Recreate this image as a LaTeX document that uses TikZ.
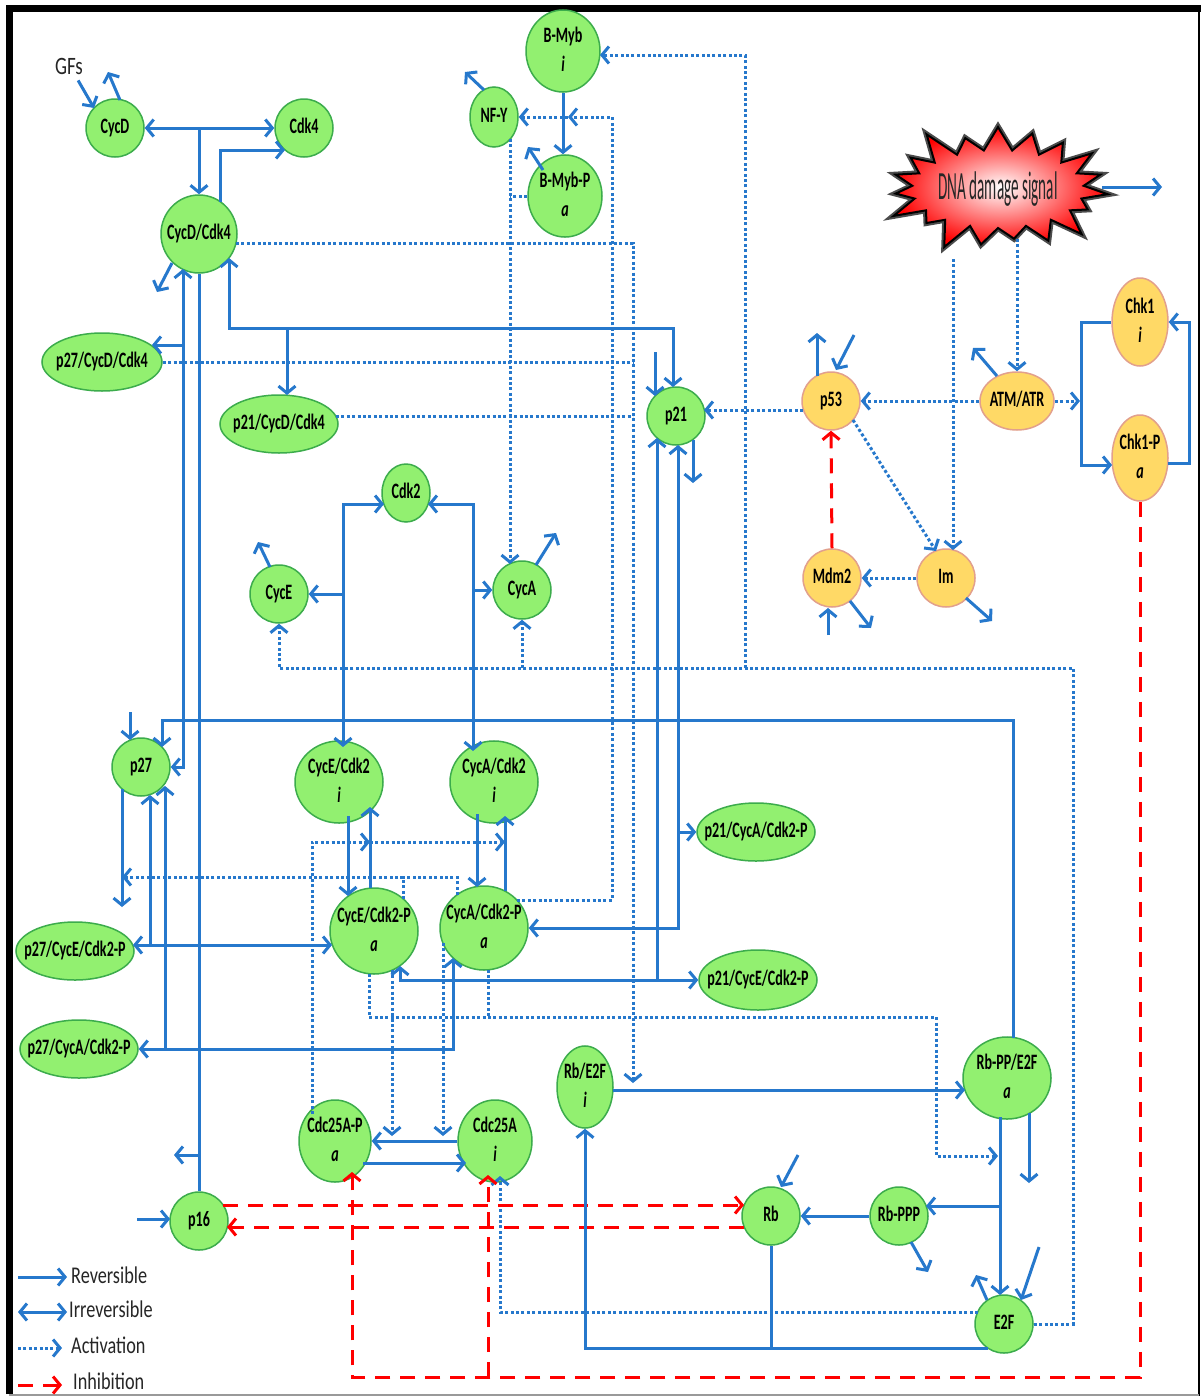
\documentclass[tikz,border=0pt]{standalone}
\usepackage{fontspec}
\usetikzlibrary{arrows.meta,shapes.geometric,shapes.symbols,calc}
\newfontfamily\nodefont[FakeStretch=0.64]{Carlito}
\newfontfamily\legfont[FakeStretch=0.76]{Carlito}
\newfontfamily\dnafont[FakeStretch=0.38]{Carlito}
\definecolor{lnBlue}{RGB}{38,120,204}
\definecolor{spFill}{RGB}{146,240,112}
\definecolor{spLine}{RGB}{60,172,76}
\definecolor{orFill}{RGB}{255,217,102}
\definecolor{orLine}{RGB}{226,160,140}
\definecolor{inRed}{RGB}{255,0,0}
\newcommand{\nlab}[1]{\makebox[0pt]{\begin{tabular}{@{}c@{}}#1\end{tabular}}}
\begin{document}
\begin{tikzpicture}[x=1pt,y=-1pt,
  >={Straight Barb[length=7pt,width=17pt]},
  sp/.style={ellipse, draw=spLine, fill=spFill, line width=1.5pt, inner sep=0pt,
    font=\nodefont\bfseries\fontsize{22}{29}\selectfont},
  op/.style={sp, draw=orLine, fill=orFill},
  sz/.style 2 args={minimum width=#1, minimum height=#2},
  rx/.style={draw=lnBlue, line width=3pt},
  act/.style={draw=lnBlue, line width=3pt, dash pattern=on 3pt off 2.4pt},
  inh/.style={draw=inRed, line width=3pt, dash pattern=on 15pt off 10pt},
  legtxt/.style={inner sep=0pt, font=\legfont\fontsize{24}{27}\selectfont, text=black!85}]
\useasboundingbox (0,0) rectangle (1204,1400);
\fill[white] (0,0) rectangle (1204,1400);

% frame
\draw[line width=7pt] (9.5,1394) -- (9.5,8.5) -- (1201,8.5);
\draw[line width=2pt] (1199,8.5) -- (1199,1396);
\draw[line width=1.5pt, black!40] (9,1395) -- (1199,1395);

% ---------- species ----------
\node[sp,sz={58pt}{58pt}] (CycD) at (115,128) {\nlab{CycD}};
\node[sp,sz={58pt}{58pt}] (Cdk4) at (304,128) {\nlab{Cdk4}};
\node[sp,sz={76pt}{78pt}] (CycDCdk4) at (199,234) {\nlab{CycD/Cdk4}};
\node[sp,sz={74pt}{66pt}] (BMyb) at (563,51) {\nlab{B-Myb\\\textit{i}}};
\node[sp,sz={48pt}{60pt}] (NFY) at (494,117) {\nlab{NF-Y}};
\node[sp,sz={74pt}{66pt}] (BMybP) at (565,196) {\nlab{B-Myb-P\\\textit{a}}};
\node[sp,sz={120pt}{58pt}] (p27D) at (102,362) {\nlab{p27/CycD/Cdk4}};
\node[sp,sz={118pt}{58pt}] (p21D) at (279,424) {\nlab{p21/CycD/Cdk4}};
\node[sp,sz={58pt}{58pt}] (p21) at (676,416) {\nlab{p21}};
\node[sp,sz={48pt}{58pt}] (Cdk2) at (406,493) {\nlab{Cdk2}};
\node[sp,sz={58pt}{58pt}] (CycE) at (279,594) {\nlab{CycE}};
\node[sp,sz={58pt}{58pt}] (CycA) at (522,590) {\nlab{CycA}};
\node[sp,sz={58pt}{58pt}] (p27) at (141,767) {\nlab{p27}};
\node[sp,sz={88pt}{70pt}] (CycEi) at (339,782) {\nlab{CycE/Cdk2\\\textit{i}}};
\node[sp,sz={88pt}{70pt}] (CycAi) at (494,782) {\nlab{CycA/Cdk2\\\textit{i}}};
\node[sp,sz={88pt}{86pt}] (CycEa) at (374,931) {\nlab{CycE/Cdk2-P\\\textit{a}}};
\node[sp,sz={88pt}{84pt}] (CycAa) at (484,928) {\nlab{CycA/Cdk2-P\\\textit{a}}};
\node[sp,sz={118pt}{58pt}] (p21A) at (756,832) {\nlab{p21/CycA/Cdk2-P}};
\node[sp,sz={118pt}{60pt}] (p21E) at (758,980) {\nlab{p21/CycE/Cdk2-P}};
\node[sp,sz={118pt}{58pt}] (p27E) at (75,951) {\nlab{p27/CycE/Cdk2-P}};
\node[sp,sz={118pt}{58pt}] (p27A) at (79,1049) {\nlab{p27/CycA/Cdk2-P}};
\node[sp,sz={56pt}{72pt}] (RbE2F) at (585,1087) {\nlab{Rb/E2F\\\textit{i}}};
\node[sp,sz={88pt}{80pt}] (RbPP) at (1007,1078) {\nlab{Rb-PP/E2F\\\textit{a}}};
\node[sp,sz={72pt}{70pt}] (Cdc25AP) at (335,1141) {\nlab{Cdc25A-P\\\textit{a}}};
\node[sp,sz={74pt}{70pt}] (Cdc25A) at (495,1141) {\nlab{Cdc25A\\\textit{i}}};
\node[sp,sz={58pt}{58pt}] (p16) at (199,1221) {\nlab{p16}};
\node[sp,sz={58pt}{58pt}] (Rb) at (771,1216) {\nlab{Rb}};
\node[sp,sz={58pt}{58pt}] (RbPPP) at (899,1216) {\nlab{Rb-PPP}};
\node[sp,sz={58pt}{58pt}] (E2F) at (1004,1324) {\nlab{E2F}};

\node[op,sz={58pt}{58pt}] (p53) at (831,401) {\nlab{p53}};
\node[op,sz={74pt}{58pt}] (ATM) at (1017,401) {\nlab{ATM/ATR}};
\node[op,sz={58pt}{58pt}] (Mdm2) at (832,578) {\nlab{Mdm2}};
\node[op,sz={58pt}{58pt}] (Im) at (946,578) {\nlab{Im}};
\node[op,sz={56pt}{88pt}] (Chk1) at (1140,322) {\nlab{Chk1\\\textit{i}}};
\node[op,sz={56pt}{86pt}] (Chk1P) at (1140,458) {\nlab{Chk1-P\\\textit{a}}};

% DNA damage starburst, with a soft dark rim behind it
\node[starburst, starburst points=19, starburst point height=32pt,
  minimum width=236pt, minimum height=142pt, inner sep=0pt,
  draw=black!70, line width=6pt, fill=black!70] (dnarim) at (998,189) {};
\node[starburst, starburst points=19, starburst point height=32pt,
  minimum width=236pt, minimum height=142pt, inner sep=0pt,
  draw=black, line width=2pt, shade, shading=radial,
  inner color=white, outer color=red,
  font=\dnafont\fontsize{40}{42}\selectfont, text=black!85] (dna) at (998,189) {DNA damage signal};

\node[legtxt, font=\legfont\fontsize{25}{27}\selectfont] (GFs) at (69,66) {GFs};

% ---------- CycD / Cdk4 module ----------
\draw[rx,->] ($(GFs.south east)+(-5,6)$) -- ($(CycD)+(-21,-20)$);
\draw[rx,->] ($(CycD)+(5,-28)$) -- ($(CycD)+(-7,-56)$);
\draw[rx,<->] (CycD.east) -- (Cdk4.west);
\draw[rx,->] (CycDCdk4.north |- CycD.east) -- (CycDCdk4.north);
\draw[rx,->] ($(CycDCdk4)+(21,-32)$) |- ($(Cdk4)+(-19,22)$);
\draw[rx,->] ($(CycDCdk4)+(-27,29)$) -- ($(CycDCdk4)+(-42,58)$);
\draw[rx,<->] ($(CycDCdk4)+(-16,35)$) |- (p27.east);
\draw[rx,->] ($(CycDCdk4)+(-16,111)$) -- ($(p27D)+(50,-17)$);
\draw[rx] (CycDCdk4.south) -- (p16.north);
\draw[rx,->] ($(p16)+(0,-66)$) -- ($(p16)+(-25,-66)$);
\draw[rx,<->] ($(CycDCdk4)+(30,24)$) |- ($(p21)+(-3,-88)$) -- ($(p21)+(-3,-29)$);
\draw[rx,->] ($(p21D)+(8,-96)$) -- ($(p21D)+(8,-29)$);

% CycD complexes activate Rb/E2F phosphorylation
\draw[act,->] ($(CycDCdk4)+(37,9)$) -| ($(RbE2F)+(48,-4)$);
\draw[act] (p27D.east) -- ($(RbE2F)+(48,-725)$);
\draw[act] ($(p21D)+(57,-8)$) -- ($(RbE2F)+(48,-671)$);

% ---------- B-Myb / NF-Y ----------
\draw[rx,->] (BMyb.south) -- (BMyb.south |- BMybP.north);
\draw[rx,->] ($(NFY)+(-10,-27)$) -- ($(NFY)+(-29,-45)$);
\draw[rx,->] ($(BMybP)+(-22,-26)$) -- ($(BMybP)+(-37,-49)$);
\draw[act,->] ($(CycAa)+(33,-28)$) -| ($(NFY)+(118,0)$) -- ($(NFY)+(74,0)$);
\draw[act,->] ($(NFY)+(74,0)$) -- (NFY.east);
\draw[act,->] ($(NFY)+(16,22)$) -- ($(CycA)+(-12,-26)$);
\draw[act] (BMybP.west) -- ($(NFY)+(16,79)$);

% E2F-driven transcription
\draw[act,->] (E2F.east) -| ($(E2F)+(69,-656)$) -| (CycE.south);
\draw[act,->] ($(CycA)+(0,78)$) -- (CycA.south);
\draw[act,->] ($(BMyb)+(182,617)$) |- ($(BMyb)+(37,4)$);

% ---------- DNA damage module ----------
\draw[rx,->] ($(dna)+(104,-2)$) -- ($(dna)+(164,-2)$);
\draw[act,->] ($(dna)+(19,50)$) -- (ATM.north);
\draw[act,->] ($(dna)+(-45,70)$) -- ($(Im)+(7,-28)$);
\draw[act,->] (ATM.west) -- (p53.east);
\draw[act,->] (ATM.east) -- ($(Chk1)+(-60,79)$);
\draw[rx,->] (Chk1.west) -- ++(-30,0) |- ($(Chk1P)+(-28,7)$);
\draw[rx,->] ($(Chk1P)+(28,5)$) -- ++(21,0) |- (Chk1.east);
\draw[rx,->] ($(ATM)+(-20,-25)$) -- ($(ATM)+(-44,-53)$);
\draw[rx,->] ($(p53)+(-14,-25)$) -- ($(p53)+(-14,-68)$);
\draw[rx,->] ($(p53)+(23,-66)$) -- ($(p53)+(5,-31)$);
\draw[act,->] ($(p53)+(-28,9)$) -- ($(p21)+(28,-6)$);
\draw[act,->] ($(p53)+(22,19)$) -- ($(Im)+(-10,-27)$);
\draw[act,->] (Im.west) -- (Mdm2.east);
\draw[rx,->] ($(Im)+(20,20)$) -- ($(Im)+(46,43)$);
\draw[inh,->] (Mdm2.north) -- (p53.south);
\draw[rx,->] ($(Mdm2)+(-4,57)$) -- ($(Mdm2)+(-4,30)$);
\draw[rx,->] ($(Mdm2)+(18,23)$) -- ($(Mdm2)+(39,50)$);

% ---------- p21 ----------
\draw[rx,->] ($(p21)+(-21,-64)$) -- ($(p21)+(-21,-20)$);
\draw[rx,->] ($(p21)+(17,24)$) -- ($(p21)+(17,67)$);
\draw[rx,<->] ($(CycEa)+(26,35)$) |- (p21E.west);
\draw[rx,->] ($(p21)+(-19,564)$) -- ($(p21)+(-19,22)$);
\draw[rx,<->] (CycAa.east) -| ($(p21)+(2,29)$);
\draw[rx,->] ($(p21)+(2,416)$) -- (p21A.west);

% ---------- p27 ----------
\draw[rx,->] ($(p27)+(-11,-55)$) -- ($(p27)+(-11,-27)$);
\draw[rx,->] ($(p27)+(-19,22)$) -- ($(p27)+(-19,140)$);
\draw[rx,->] ($(RbPP)+(6,-40)$) |- ($(p27)+(21,-47)$) -- ($(p27)+(21,-20)$);
\draw[rx,<->] ($(p27E)+(58,-6)$) -- ($(CycEa)+(-42,14)$);
\draw[rx,->] ($(p27)+(9,178)$) -- ($(p27)+(9,28)$);
\draw[rx,<->] (p27A.east) -| ($(CycAa)+(-31,30)$);
\draw[rx,->] ($(p27)+(24,282)$) -- ($(p27)+(24,19)$);

% ---------- Cdk2 / cyclins ----------
\draw[rx,<->] ($(Cdk2)+(-22,11)$) -| ($(CycEi)+(4,-35)$);
\draw[rx,->] ($(CycEi)+(4,-188)$) -- (CycE.east);
\draw[rx,<->] ($(Cdk2)+(22,11)$) -| ($(CycAi)+(-21,-31)$);
\draw[rx,->] ($(CycAi)+(-21,-192)$) -- (CycA.west);
\draw[rx,->] ($(CycE)+(-9,-27)$) -- ($(CycE)+(-21,-52)$);
\draw[rx,->] ($(CycA)+(14,-25)$) -- ($(CycA)+(34,-57)$);

\draw[rx,->] ($(CycEi)+(9,34)$) -- ($(CycEa)+(-26,-35)$);
\draw[rx,->] ($(CycEa)+(-4,-43)$) -- ($(CycEi)+(31,25)$);
\draw[rx,->] ($(CycAi)+(-17,32)$) -- ($(CycAa)+(-7,-41)$);
\draw[rx,->] ($(CycAa)+(21,-37)$) -- ($(CycAi)+(11,34)$);

% Cdc25A-P drives dephosphorylation
\draw[act,->] ($(Cdc25AP)+(-23,-27)$) |- ($(CycEi)+(31,60)$);
\draw[act,->] ($(CycEi)+(31,60)$) -- ($(CycAi)+(11,60)$);

% Cdk2 complexes drive p27 degradation
\draw[act,->] ($(CycEa)+(29,-32)$) |- ($(p27)+(-19,110)$);
\draw[act] ($(CycAa)+(-27,-33)$) |- ($(CycEa)+(29,-54)$);

% Cdk2 complexes drive Rb hyperphosphorylation
\draw[act,->] ($(CycEa)+(-5,43)$) |- ($(RbPP)+(-71,-61)$) |- ($(RbPP)+(-9,78)$);
\draw[act] ($(CycAa)+(4,42)$) -- ($(CycAa)+(4,89)$);

% Cdk2 complexes drive Cdc25A phosphorylation
\draw[act,->] ($(CycEa)+(18,39)$) -- ($(Cdc25AP)+(57,-5)$);
\draw[act,->] ($(CycAa)+(-41,15)$) -- ($(Cdc25AP)+(108,-5)$);

% ---------- Cdc25A ----------
\draw[rx,->] (Cdc25A.west) -- (Cdc25AP.east);
\draw[rx,->] ($(Cdc25AP)+(28,22)$) -- ($(Cdc25A)+(-29,22)$);
\draw[act,->] ($(E2F)+(-26,-12)$) -| ($(Cdc25A)+(5,35)$);

% ---------- inhibitions ----------
\draw[inh,->] ($(p16)+(24,-16)$) -- ($(Rb)+(-27,-11)$);
\draw[inh,->] ($(Rb)+(-27,11)$) -- ($(p16)+(28,6)$);
\draw[inh,->] (Chk1P.south) |- ($(Cdc25AP)+(17,236)$) -- ($(Cdc25AP)+(17,31)$);
\draw[inh,->] ($(Cdc25A)+(-7,236)$) -- ($(Cdc25A)+(-7,34)$);

% ---------- Rb / E2F ----------
\draw[rx,->] ($(RbE2F)+(28,3)$) -- ($(RbPP)+(-42,12)$);
\draw[rx,->] ($(RbPP)+(-7,39)$) -- ($(E2F)+(-4,-29)$);
\draw[rx,->] ($(RbPP)+(-7,128)$) -- ($(RbPPP)+(27,-10)$);
\draw[rx,->] ($(RbPP)+(22,35)$) -- ($(RbPP)+(22,105)$);
\draw[rx,->] (RbPPP.west) -- (Rb.east);
\draw[rx,->] ($(RbPPP)+(12,26)$) -- ($(RbPPP)+(29,56)$);
\draw[rx,->] ($(Rb)+(27,-61)$) -- ($(Rb)+(10,-29)$);
\draw[rx,->] ($(E2F)+(35,-77)$) -- ($(E2F)+(17,-24)$);
\draw[rx,->] ($(E2F)+(-17,-24)$) -- ($(E2F)+(-28,-49)$);
\draw[rx,->] ($(E2F)+(-16,24)$) -| (RbE2F.south);
\draw[rx] (Rb.south) -- ($(Rb)+(0,132)$);

% p16 input
\draw[rx,->] ($(p16)+(-62,-2)$) -- ($(p16)+(-29,-2)$);

% ---------- legend ----------
\node[legtxt, anchor=west] (lgRev) at (71,1275) {Reversible};
\node[legtxt, anchor=west] (lgIrr) at (69,1309) {Irreversible};
\node[legtxt, anchor=west] (lgAct) at (71,1345) {Activation};
\node[legtxt, anchor=west] (lgInh) at (73,1381) {Inhibition};
\draw[rx,->] ($(lgRev.west)+(-53,2)$) -- ($(lgRev.west)+(-4,2)$);
\draw[rx,<->] ($(lgIrr.west)+(-51,3)$) -- ($(lgIrr.west)+(-2,3)$);
\draw[act,->] ($(lgAct.west)+(-53,3)$) -- ($(lgAct.west)+(-9,3)$);
\draw[inh,->] ($(lgInh.west)+(-55,4)$) -- ($(lgInh.west)+(-11,4)$);
\end{tikzpicture}
\end{document}
